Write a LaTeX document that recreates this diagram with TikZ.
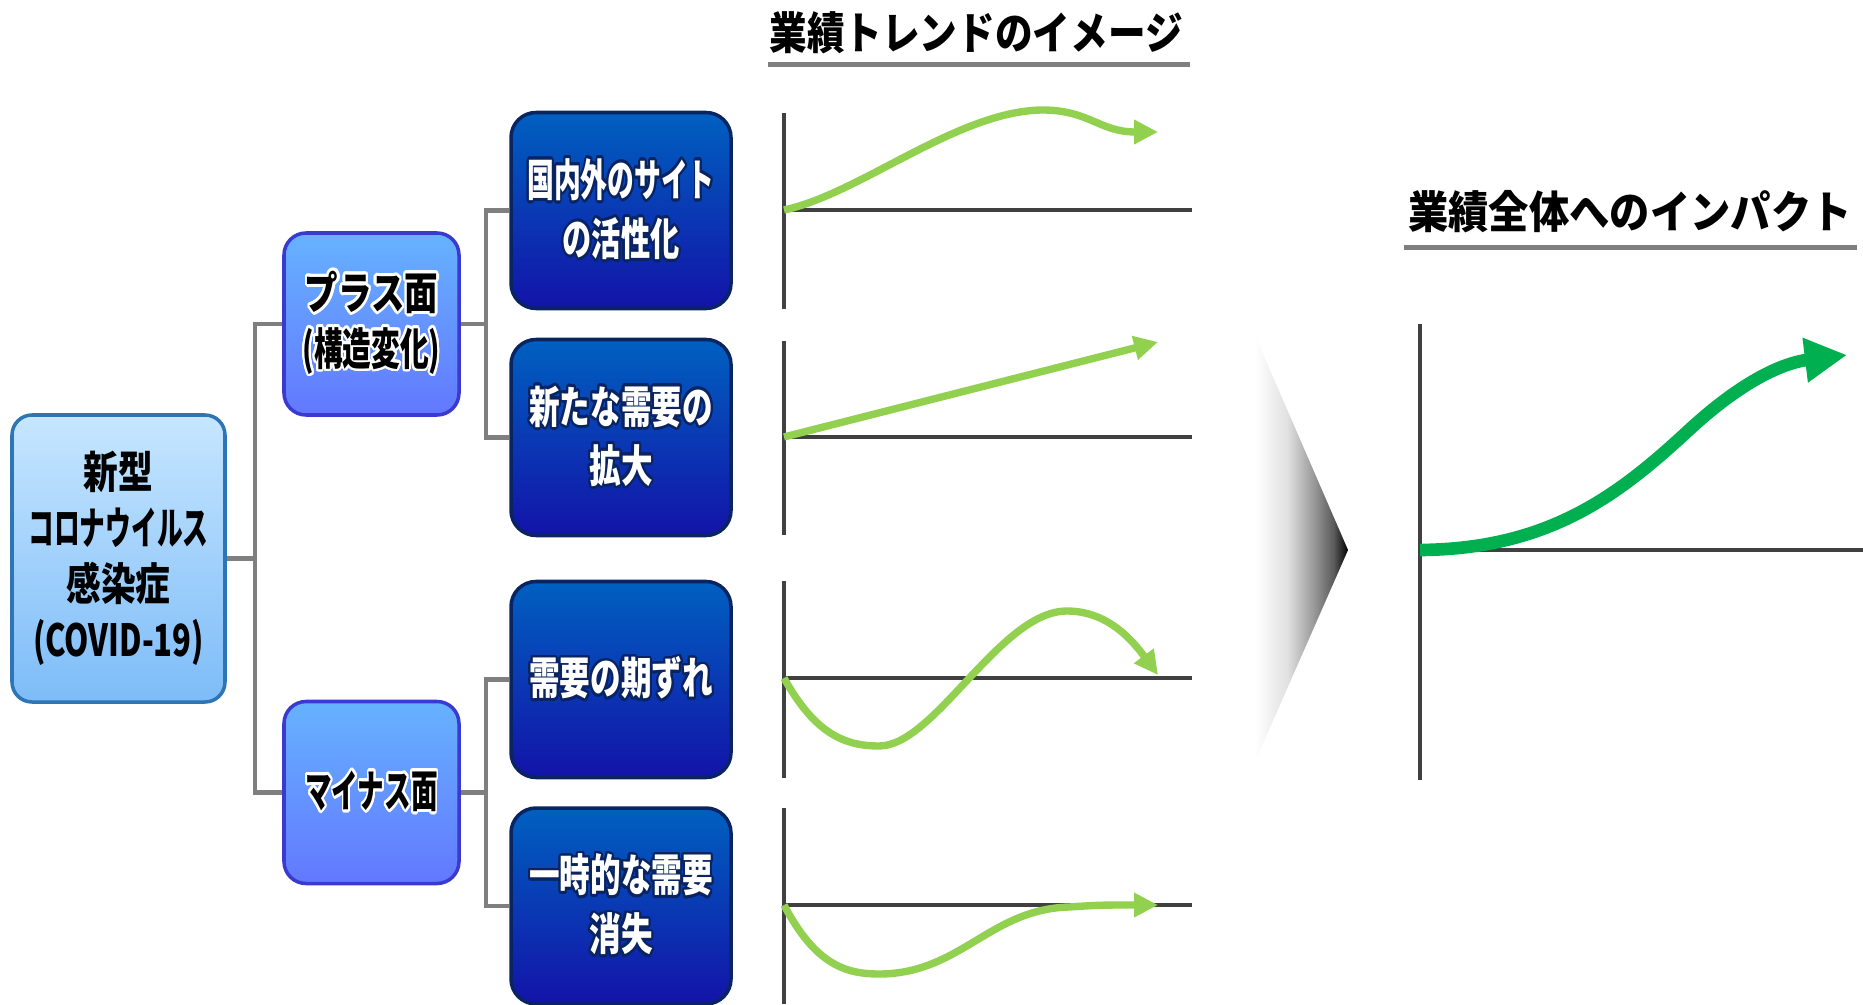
\documentclass[tikz,border=0pt]{standalone}
\usepackage{fontspec}
\usepackage{graphicx}
\usepackage[copies]{contour}
\usetikzlibrary{arrows.meta}

\newfontfamily\jpbox{Noto Sans CJK JP Black}[CharacterWidth=Proportional, FakeStretch=0.9]
\newfontfamily\jptitle{Noto Sans CJK JP Black}
\contournumber{24}

\definecolor{rootTop}{HTML}{C6E6FF}
\definecolor{rootBot}{HTML}{7DBCF8}
\definecolor{rootLine}{HTML}{2E75B6}
\definecolor{sideTop}{HTML}{66B2FF}
\definecolor{sideBot}{HTML}{6378FF}
\definecolor{sideLine}{HTML}{3A3AD0}
\definecolor{itemTop}{HTML}{0060C0}
\definecolor{itemBot}{HTML}{1313A8}
\definecolor{itemLine}{HTML}{0A2461}
\definecolor{linkGray}{HTML}{7F7F7F}
\definecolor{axisGray}{HTML}{404040}
\definecolor{trendGreen}{HTML}{92D050}
\definecolor{impactGreen}{HTML}{00B050}

\pgfdeclarehorizontalshading{fadeblack}{100bp}{color(0bp)=(white); color(25bp)=(white); color(29bp)=(white); color(45bp)=(black!12); color(58bp)=(black!40); color(68bp)=(black!65); color(75bp)=(black); color(100bp)=(black)}

% squeeze a line horizontally
\newcommand{\sqz}[2]{\scalebox{#1}[1]{#2}}
\newcommand{\whitetxt}[2]{\sqz{#1}{\contourlength{0.8pt}\contour{itemLine}{#2}}}
\newcommand{\blacktxt}[2]{\sqz{#1}{\contourlength{0.8pt}\contour{white}{#2}}}

\tikzset{
  rootbox/.style={draw=rootLine, line width=1pt, rounded corners=0.2cm,
    top color=rootTop, bottom color=rootBot, minimum width=2.13cm,
    minimum height=2.87cm, align=center, font=\jpbox\fontsize{12.6}{15.9}\selectfont},
  sidebox/.style={draw=sideLine, line width=1pt, rounded corners=0.22cm,
    top color=sideTop, bottom color=sideBot, minimum width=1.75cm,
    minimum height=1.82cm, align=center, font=\jpbox\fontsize{12.6}{15.9}\selectfont},
  itembox/.style={draw=itemLine, line width=1pt, rounded corners=0.25cm,
    top color=itemTop, bottom color=itemBot, minimum width=2.2cm,
    minimum height=1.96cm, align=center, text=white,
    font=\jpbox\fontsize{12.6}{16.8}\selectfont},
  link/.style={draw=linkGray, line width=1.2pt},
  axis/.style={draw=axisGray, line width=1pt},
  trend/.style={draw=trendGreen, line width=2.1pt, -{Triangle[length=6.8pt,width=6.6pt]}},
  impact/.style={draw=impactGreen, line width=3.6pt, -{Triangle[length=12pt,width=12pt]}},
  heading/.style={font=\jptitle\fontsize{12.6}{14}\selectfont},
  headline/.style={draw=linkGray, line width=0.05cm}
}

\begin{document}
\begin{tikzpicture}
\useasboundingbox (0,0) rectangle (18.63,10.04);

% tree
\node [rootbox] (root) at (1.185,4.455) {\sqz{0.87}{新型}\\\sqz{0.646}{コロナウイルス}\\\sqz{0.87}{感染症}\\\sqz{0.777}{（COVID-19）}};
\node [sidebox] (plus) at (3.715,6.80) {\blacktxt{0.84}{プラス面}\\\blacktxt{0.72}{（構造変化）}};
\node [sidebox] (minus) at (3.715,2.115) {\blacktxt{0.667}{マイナス面}};

\node [itembox] (item1) at (6.21,7.935) {\whitetxt{0.672}{国内外のサイト}\\\whitetxt{0.733}{の活性化}};
\node [itembox] (item2) at (6.21,5.665) {\whitetxt{0.768}{新たな需要の}\\\whitetxt{0.794}{拡大}};
\node [itembox] (item3) at (6.21,3.245) {\whitetxt{0.768}{需要の期ずれ}};
\node [itembox] (item4) at (6.21,0.98) {\whitetxt{0.768}{一時的な需要}\\\whitetxt{0.794}{消失}};

\draw [link] (root.east) -- ++(0.28,0) |- (plus.west);
\draw [link] (root.east) -- ++(0.28,0) |- (minus.west);
\draw [link] (plus.east) -- ++(0.25,0) |- (item1.west);
\draw [link] (plus.east) -- ++(0.25,0) |- (item2.west);
\draw [link] (minus.east) -- ++(0.25,0) |- (item3.west);
\draw [link] (minus.east) -- ++(0.25,0) |- (item4.west);

% trend charts
\node [heading] (trendtitle) at (9.76,9.71) {\sqz{0.85}{業績トレンドのイメージ}};
\draw [headline] (7.68,9.39) -- (11.90,9.39);

\draw [axis] (7.84,8.91) -- (7.84,6.95);
\draw [axis] (7.84,7.94) -- (11.92,7.94);
\draw [trend] (7.84,7.94) .. controls (8.6,8.1) and (9.6,8.95) .. (10.45,8.94)
  .. controls (10.9,8.93) and (11.0,8.72) .. (11.58,8.72);

\draw [axis] (7.84,6.63) -- (7.84,4.69);
\draw [axis] (7.84,5.67) -- (11.92,5.67);
\draw [trend] (7.84,5.67) -- (11.58,6.62);

\draw [axis] (7.84,4.23) -- (7.84,2.26);
\draw [axis] (7.84,3.26) -- (11.92,3.26);
\draw [trend] (7.84,3.26) .. controls (8.15,2.7) and (8.45,2.58) .. (8.79,2.58)
  .. controls (9.35,2.58) and (10.0,3.93) .. (10.67,3.93)
  .. controls (11.1,3.93) and (11.35,3.6) .. (11.58,3.29);

\draw [axis] (7.84,1.96) -- (7.84,0.0);
\draw [axis] (7.84,0.99) -- (11.92,0.99);
\draw [trend] (7.84,0.99) .. controls (8.15,0.4) and (8.45,0.30) .. (8.79,0.30)
  .. controls (9.6,0.30) and (9.9,0.95) .. (10.69,0.97)
  .. controls (11.0,0.99) .. (11.58,0.99);

% chevron
\shade [shading=fadeblack] (12.47,6.87) -- (13.48,4.54) -- (12.47,2.24) -- cycle;

% impact chart
\node [heading] (impacttitle) at (16.30,7.92) {\sqz{0.91}{業績全体へのインパクト}};
\draw [headline] (14.04,7.56) -- (18.57,7.56);

\draw [axis] (14.20,6.80) -- (14.20,2.24);
\draw [axis] (14.20,4.54) -- (18.63,4.54);
\draw [impact] (14.20,4.54) .. controls (15.5,4.55) and (16.2,5.1) .. (16.9,5.75)
  .. controls (17.5,6.3) and (17.9,6.42) .. (18.47,6.49);

\end{tikzpicture}
\end{document}
